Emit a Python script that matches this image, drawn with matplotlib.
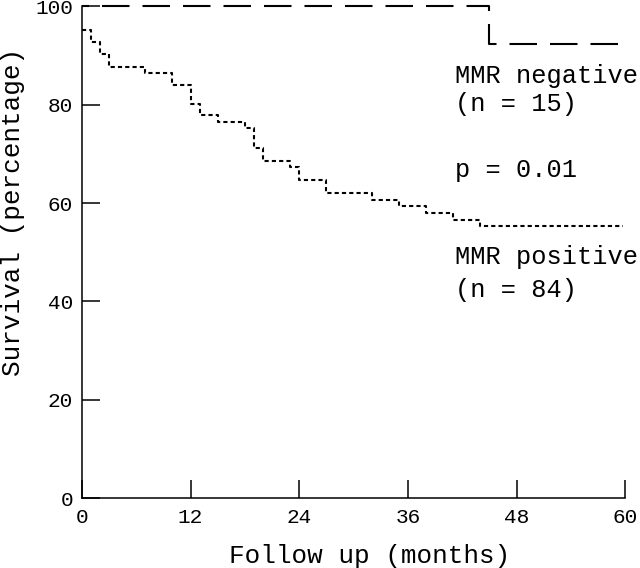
import matplotlib
matplotlib.use("Agg")
import matplotlib.pyplot as plt

# Kaplan-Meier style survival curves
neg_months = [0, 45, 59.4]
neg_surv = [100, 92.4, 92.4]

pos_months = [0, 1, 2, 3, 7, 10, 12, 13, 15, 18, 19, 20, 23, 24, 27, 32, 35, 38, 41, 44, 59.8]
pos_surv = [95.1, 92.8, 90.2, 87.7, 86.5, 83.9, 80.2, 77.8, 76.5, 75.3, 71.2, 68.6,
            67.3, 64.6, 62.0, 60.7, 59.3, 57.9, 56.5, 55.3, 55.3]

x_ticks = [0, 12, 24, 36, 48, 60]
y_ticks = [0, 20, 40, 60, 80, 100]

plt.rcParams['font.family'] = ['Liberation Mono', 'DejaVu Sans Mono']

fig = plt.figure(figsize=(6.4, 5.68), dpi=100)
ax = fig.add_axes([0.128, 0.123, 0.849, 0.866])

ax.step(neg_months, neg_surv, where='post', color='black', lw=1.5,
        linestyle=(9.84, (13.2, 6.24)), clip_on=False)
ax.step(pos_months, pos_surv, where='post', color='black', lw=1.5,
        linestyle=(0, (2, 1.5)), clip_on=False)

ax.set_xlim(0, 60)
ax.set_ylim(0, 100)
ax.set_xticks(x_ticks)
ax.set_yticks(y_ticks)
ax.tick_params(direction='in', length=13, width=1.1, labelsize=15.2)
ax.tick_params(axis='x', pad=7)
ax.tick_params(axis='y', pad=6.5)
for s in ['top', 'right']:
    ax.spines[s].set_visible(False)
for s in ['left', 'bottom']:
    ax.spines[s].set_linewidth(1.1)

ax.set_xlabel("Follow up (months)", fontsize=18.7, va='center')
ax.xaxis.set_label_coords(0.530, -0.118)
ax.set_ylabel("Survival (percentage)", fontsize=18.7, va='center')
ax.yaxis.set_label_coords(-0.127, 0.582)

txt = dict(fontsize=18.3, ha='left', va='center', clip_on=False)
ax.text(41.2, 85.8, "MMR negative", **txt)
ax.text(41.2, 80.1, "(n = 15)", **txt)
ax.text(41.2, 66.7, "p = 0.01", **txt)
ax.text(41.2, 49.0, "MMR positive", **txt)
ax.text(41.2, 42.3, "(n = 84)", **txt)

plt.savefig("out.png", dpi=100)
